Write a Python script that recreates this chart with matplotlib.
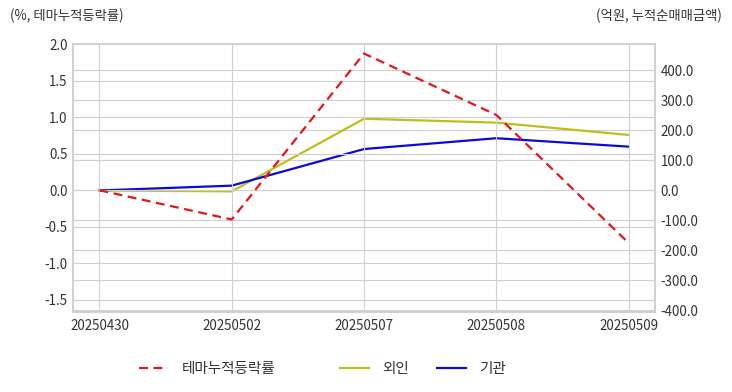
import matplotlib
matplotlib.use("Agg")
import matplotlib.pyplot as plt
from matplotlib.ticker import FormatStrFormatter, MultipleLocator

plt.rcParams['font.family'] = ['Noto Sans CJK KR', 'DejaVu Sans']
plt.rcParams['axes.unicode_minus'] = False

# data
dates = ['20250430', '20250502', '20250507', '20250508', '20250509']
theme_rate = [0.0, -0.40, 1.87, 1.03, -0.72]       # %, left axis
foreign_net = [0.0, -3.0, 239.0, 226.0, 185.0]      # 억원, right axis
inst_net = [0.0, 16.0, 138.0, 174.0, 146.0]         # 억원, right axis

grid_c = '#d0d0d0'
text_c = '#333333'

fig = plt.figure(figsize=(7.32, 3.92), dpi=100)
ax = fig.add_axes([73 / 732, 80 / 392, 582 / 732, 268 / 392])
ax2 = ax.twinx()

x = list(range(len(dates)))
l1, = ax.plot(x, theme_rate, color='#e8141c', linestyle=(0, (4, 2.5)), lw=1.6,
              label='테마누적등락률', zorder=3)
l2, = ax2.plot(x, foreign_net, color='#bfbf1a', lw=1.6, label='외인')
l3, = ax2.plot(x, inst_net, color='#0a0adc', lw=1.6, label='기관')

ax.set_xlim(-0.2, 4.2)
ax.set_ylim(-1.665, 2.0)
ax.yaxis.set_major_locator(MultipleLocator(0.5))
ax.yaxis.set_major_formatter(FormatStrFormatter('%.1f'))
ax2.yaxis.set_major_formatter(FormatStrFormatter('%.1f'))
ax2.set_yticks([v * 100 for v in range(-4, 5)])
ax2.set_ylim(-405, 488)

ax.set_xticks(x)
ax.set_xticklabels(dates)

for a in (ax, ax2):
    a.tick_params(length=0, labelsize=9.6, colors=text_c, pad=4)
    for s in a.spines.values():
        s.set_color(grid_c)
        s.set_linewidth(1.2)
ax.tick_params(axis='x', pad=5)

ax.grid(True, color=grid_c, lw=0.8)
ax2.grid(True, axis='y', color=grid_c, lw=0.8)
ax.set_zorder(ax2.get_zorder() + 1)
ax.patch.set_visible(False)

fig.text(10 / 732, 1 - 16 / 392, '(%, 테마누적등락률)', fontsize=9.6, color=text_c,
         ha='left', va='center')
fig.text(722 / 732, 1 - 16 / 392, '(억원, 누적순매매금액)', fontsize=9.6, color=text_c,
         ha='right', va='center')

leg1 = fig.legend(handles=[l1], loc='center left', bbox_to_anchor=(126 / 732, 1 - 369 / 392),
                  frameon=False, fontsize=10.5, handlelength=2.0, handletextpad=0.9)
for t in leg1.get_texts():
    t.set_color(text_c)
leg2 = fig.legend(handles=[l2, l3], loc='center left', bbox_to_anchor=(327 / 732, 1 - 369 / 392),
                  frameon=False, fontsize=10.5, ncol=2, handlelength=2.0, handletextpad=0.9,
                  columnspacing=1.9)
for t in leg2.get_texts():
    t.set_color(text_c)

fig.savefig('out.png', dpi=100)
